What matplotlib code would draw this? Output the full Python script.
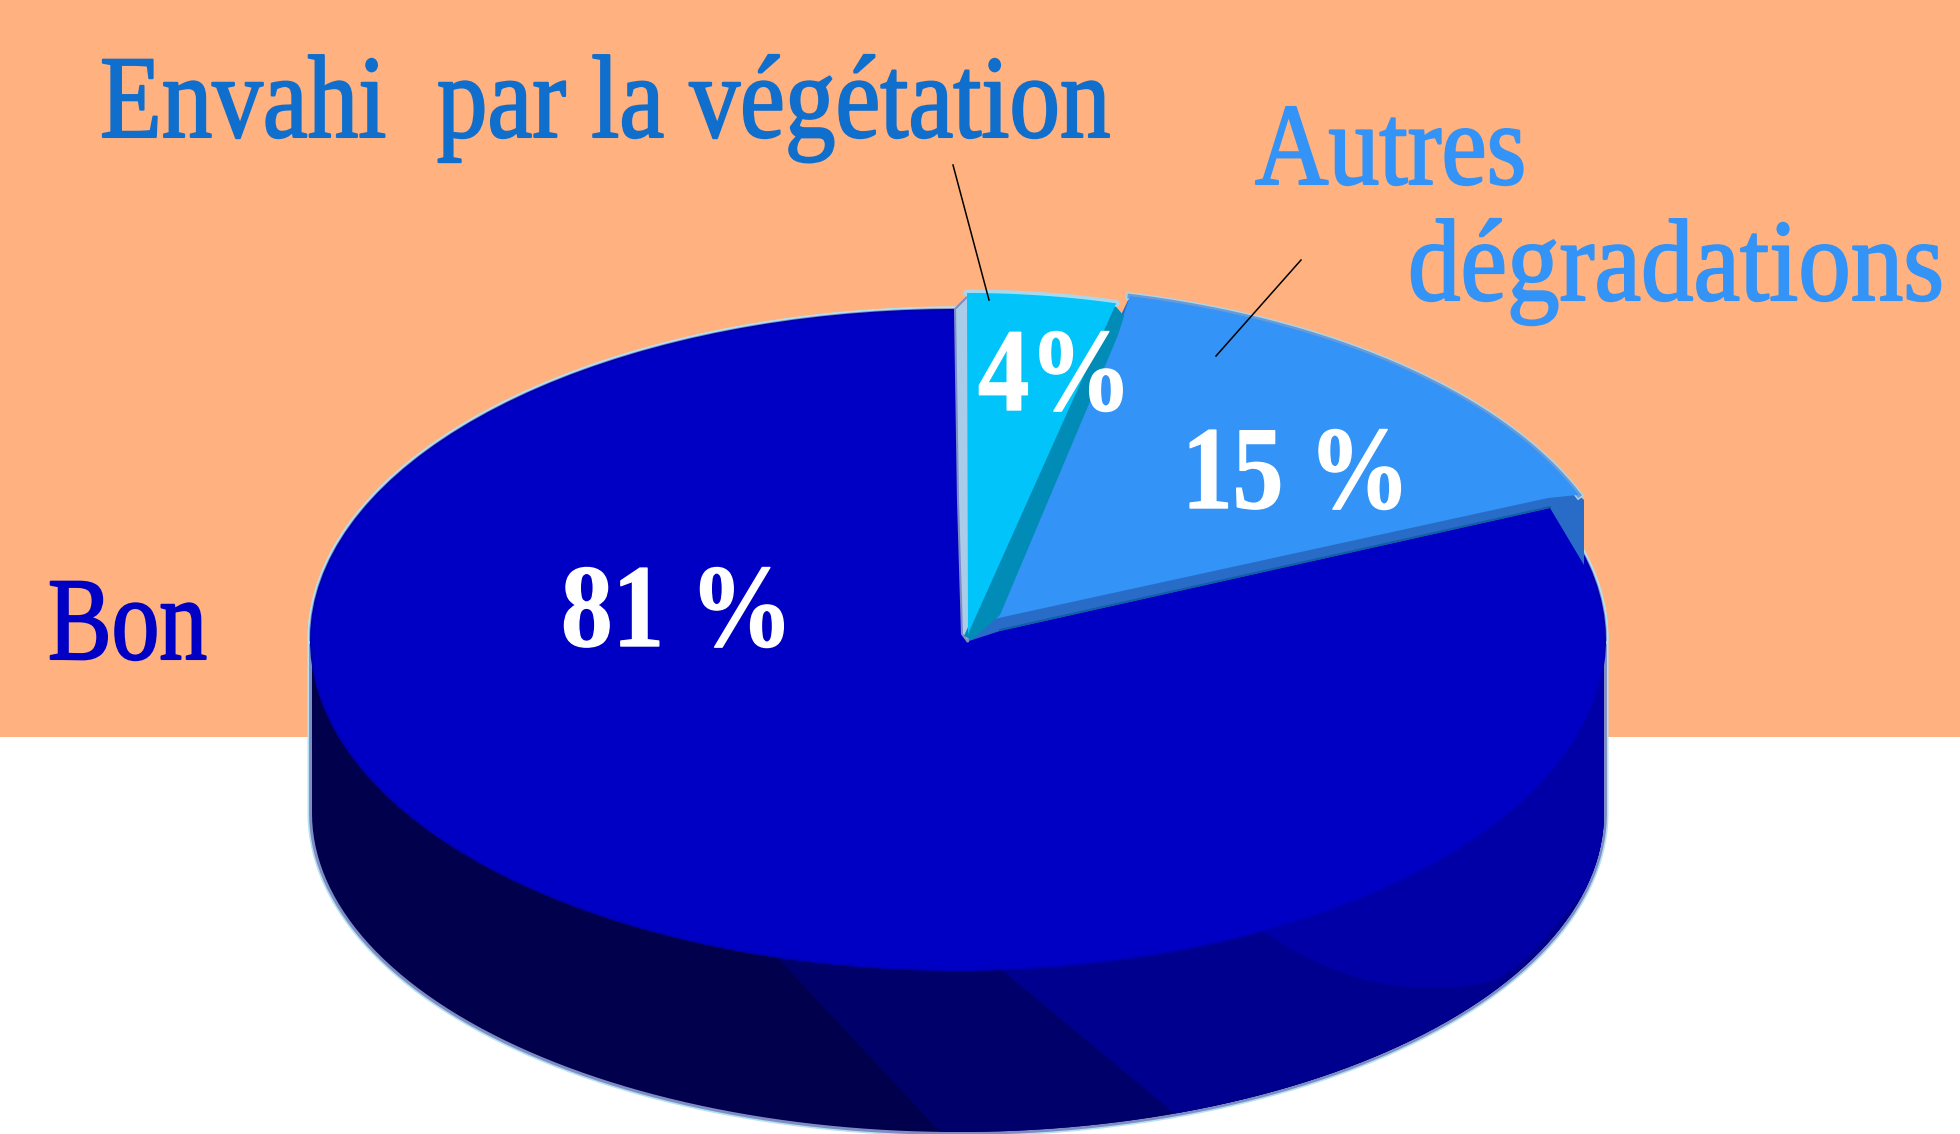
"""Pseudo-3D pie of site condition: flat slices on a shaded drum, with condensed serif labels."""
import matplotlib
matplotlib.use('Agg')
import matplotlib.patheffects as pe
import matplotlib.pyplot as plt
import numpy as np
from matplotlib.patches import PathPatch, Polygon, Rectangle
from matplotlib.path import Path
from matplotlib.transforms import Affine2D

# clockwise from the top of the pie
SHARES = [4, 15, 81]
VALUE_LABELS = ['4%', '15 %', '81 %']
SLICE_COLORS = ['#00C4FA', '#3393F6', '#0000C4']
NAMES = ['Envahi  par la végétation', 'Autres', 'dégradations', 'Bon']
NAME_COLORS = ['#106ECC', '#3393F6', '#3393F6', '#0000C4']

PEACH = '#FFB27F'
W, H = 1960, 1134
CX, CY, RX, RY = 958, 640, 646, 329
DEPTH = 173
RY_BOTTOM = 319
HALO = [(6.5, '#B4E2F2'), (4.2, '#7F8DC4')]

plt.rcParams['font.family'] = ['Liberation Serif', 'DejaVu Serif']


class Squeeze(pe.AbstractPathEffect):
    """Condense and thicken glyphs around x0 (display px); the text stays a Text artist."""

    def __init__(self, sx, x0, stroke):
        super().__init__()
        self.sx, self.x0, self.stroke = sx, x0, stroke

    def draw_path(self, renderer, gc, tpath, affine, rgbFace=None):
        squeeze = Affine2D().translate(-self.x0, 0).scale(self.sx, 1).translate(self.x0, 0)
        gc0 = renderer.new_gc()
        gc0.copy_properties(gc)
        gc0.set_foreground(rgbFace)
        gc0.set_linewidth(self.stroke)
        renderer.draw_path(gc0, tpath, affine + squeeze, rgbFace)
        gc0.restore()


def rim(a, cx=CX, cy=CY, rx=RX, ry=RY):
    a = np.radians(np.atleast_1d(a))
    return np.column_stack([cx + rx * np.sin(a), cy - ry * np.cos(a)])


def arc(a0, a1, **kw):
    return rim(np.linspace(a0, a1, 120), **kw)


def label(ax, fig, text, x0, x1, baseline, color, size, weight='normal', right=False, stroke=1.5):
    # right-anchored text keeps its unsqueezed box inside the canvas
    anchor = x1 if right else x0
    t = ax.text(anchor, baseline, text, color=color, fontsize=size, fontweight=weight,
                ha='right' if right else 'left', va='baseline', zorder=10)
    natural = t.get_window_extent(fig.canvas.get_renderer()).width
    t.set_path_effects([Squeeze((x1 - x0) / natural, ax.transData.transform((anchor, 0))[0], stroke)])
    return t


fig = plt.figure(figsize=(W / 100, H / 100), dpi=100)
ax = fig.add_axes([0, 0, 1, 1])
ax.set_xlim(0, W)
ax.set_ylim(H, 0)
ax.axis('off')
ax.add_patch(Rectangle((0, 0), W, 737, color=PEACH, lw=0, zorder=0))

# slice angles from the data
edges = np.concatenate([[0], np.cumsum(SHARES) * 3.6])

# drum silhouette: top half of the upper ellipse + lower half of the bottom ellipse
silhouette = np.vstack([arc(270, 450), arc(90, 270, cy=CY + DEPTH, ry=RY_BOTTOM)])
for lw, col in HALO:
    ax.add_patch(Polygon(silhouette, closed=True, fc='none', ec=col, lw=lw, zorder=1))
drum = Polygon(silhouette, closed=True, fc='#00004D', ec='none', zorder=2)
ax.add_patch(drum)

# shading facets on the side wall, each clipped to the drum
bottom = dict(cy=CY + DEPTH, ry=RY_BOTTOM)
facets = [('#00006A', 196.4, 181.6), ('#00008F', 176.3, 160.4)]
for col, a_top, a_bot in facets:
    poly = np.vstack([rim(a_top), rim(a_bot, **bottom), [[1750, 1134], [1750, 600], [CX, 600]]])
    p = Polygon(poly, closed=True, fc=col, ec='none', zorder=3)
    ax.add_patch(p)
    p.set_clip_path(drum)
start = rim(152)[0]
verts = [start, (1340, 985), (1419, 988), (1470, 990), (1500, 978), (1530, 955), (1750, 700),
         (1750, 600), (CX, 600), start]
codes = [Path.MOVETO, Path.CURVE3, Path.CURVE3, Path.CURVE3, Path.CURVE3, Path.LINETO, Path.LINETO,
         Path.LINETO, Path.LINETO, Path.CLOSEPOLY]
p = PathPatch(Path(verts, codes), fc='#0000A6', ec='none', zorder=4)
ax.add_patch(p)
p.set_clip_path(drum)

# 81 % top surface
big = np.vstack([[[965, 638]], [[1550, 507]], arc(edges[2], edges[3])])
for lw, col in HALO:
    ax.plot(*arc(270, 360).T, color=col, lw=lw, zorder=4.5, solid_capstyle='round')
    ax.plot(*arc(edges[2], 90).T, color=col, lw=lw, zorder=4.5, solid_capstyle='round')
ax.add_patch(Polygon(big, closed=True, fc='#0000B0', ec='#0000B0', lw=3, zorder=5))
ax.add_patch(Polygon(big, closed=True, fc=SLICE_COLORS[2], ec='none', zorder=5.5))

# 15 % slice, pushed up and right; shadow stripe under its lower edge
mid_rim = dict(cx=978, cy=616, rx=646, ry=329)
mid_arc = arc(edges[1] - 0.8, edges[2], **mid_rim)
mid = np.vstack([[[994, 619]], [[1118, 332]], mid_arc, [[1548, 498]]])
shadow = np.vstack([[[966, 642]], [[1000, 631]], [[1550, 508]], [[1584, 565]], [[1584, 500]],
                    mid_arc[::-1]])
ax.add_patch(Polygon(shadow, closed=True, fc='#286CC8', ec='none', zorder=6))
ax.plot([1000, 1550], [630, 507], color='#0F5FA8', lw=1.4, zorder=6.1)
for lw, col in [(5.5, '#A8D8EE'), (3.5, '#6E9AD4')]:
    ax.plot(*mid_arc.T, color=col, lw=lw, zorder=6.2)
ax.add_patch(Polygon(mid, closed=True, fc=SLICE_COLORS[1], ec='none', zorder=6.5))

# light gap between the 81 % and 4 % slices
gap = np.array([[955, 309], [969, 295], [972, 600], [968, 642], [962, 634], [958, 500]])
ax.add_patch(Polygon(gap, closed=True, fc='#A9CDE8', ec='#7F8DC4', lw=1.5, zorder=6.8))

# 4 % slice, with its dark side strip and a light edge along the rim
small_rim = dict(cx=967, cy=622, rx=600, ry=329)
strip = np.array([[1112, 302], [1124, 316], [1118, 335], [1000, 615], [972, 640], [964, 636]])
ax.add_patch(Polygon(strip, closed=True, fc='#008CB6', ec='none', zorder=7))
small_arc = arc(edges[0], edges[1], **small_rim)
ax.plot(*small_arc.T, color='#A8D8EE', lw=5, zorder=7.2, solid_capstyle='round')
small = np.vstack([[[968, 634]], small_arc])
ax.add_patch(Polygon(small, closed=True, fc=SLICE_COLORS[0], ec='none', zorder=7.5))

# leader lines
ax.plot([953, 989], [165, 300], color='black', lw=1.1, zorder=9)
ax.plot([1301, 1216], [260, 356], color='black', lw=1.1, zorder=9)

fig.canvas.draw()
label(ax, fig, NAMES[0], 100, 1110, 137, NAME_COLORS[0], 85)
label(ax, fig, NAMES[1], 1255, 1526, 184, NAME_COLORS[1], 84)
label(ax, fig, NAMES[2], 1408, 1944, 300, NAME_COLORS[2], 84, right=True)
label(ax, fig, NAMES[3], 48, 207, 659, NAME_COLORS[3], 85)
label(ax, fig, VALUE_LABELS[0], 978, 1132, 410, 'white', 85, 'bold', stroke=1)
label(ax, fig, VALUE_LABELS[1], 1182, 1410, 508, 'white', 85, 'bold', stroke=1)
label(ax, fig, VALUE_LABELS[2], 561, 793, 646, 'white', 85, 'bold', stroke=1)

fig.savefig('out.png', dpi=100)
